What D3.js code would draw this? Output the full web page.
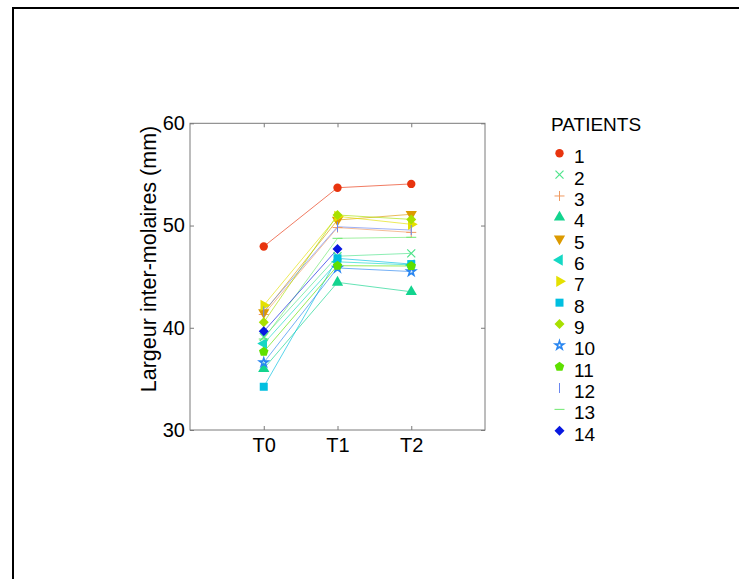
<!DOCTYPE html>
<html>
<head>
<meta charset="utf-8">
<script src="https://cdn.jsdelivr.net/npm/d3@7/dist/d3.min.js"></script>
<style>
  html, body { margin: 0; padding: 0; background: #fff; }
  svg { display: block; }
  text { font-family: Arial, "Liberation Sans", sans-serif; }
</style>
</head>
<body>
<svg id="chart" width="739" height="579"></svg>
<script>
const times = ["T0", "T1", "T2"];
const patients = ["1", "2", "3", "4", "5", "6", "7", "8", "9", "10", "11", "12", "13", "14"];
const t0Values = [47.95, 39.1, 41.3, 36.0, 41.5, 38.45, 42.2, 34.23, 40.53, 36.6, 37.65, 41.6, 38.9, 39.65];
const t1Values = [53.7, 47.0, 49.8, 44.44, 50.54, 46.45, 50.9, 46.79, 51.03, 45.85, 46.07, 49.88, 48.75, 47.7];
const t2Values = [54.07, 47.28, 49.33, 43.52, 51.1, 46.15, 50.12, 46.23, 50.6, 45.5, 46.04, 49.56, 48.85, null];
const yTicks = [30, 40, 50, 60];

const colors = ["#e8340e", "#4ee48a", "#f09a60", "#12d48e", "#dc9a00", "#14d8c4", "#e4e000",
                "#00bfe0", "#a8e000", "#2a86f0", "#5ee000", "#6a86f0", "#6ee86e", "#0818e0"];
const markers = ["circle", "times", "plus", "triUp", "triDown", "triLeft", "triRight",
                 "square", "diamond", "star", "pentagon", "vbar", "hbar", "diamond"];

const svg = d3.select("#chart");

// outer frame (only top & left edges visible)
svg.append("path")
  .attr("d", "M13,579 L13,8 L739,8")
  .attr("fill", "none").attr("stroke", "#000").attr("stroke-width", 2);

const x = d3.scaleLinear().domain([0, 4]).range([190, 485]);
const y = d3.scaleLinear().domain([30, 60]).range([430, 123.3]);

const axisColor = "#7a7a7a";

function styleAxis(g) {
  g.select(".domain").remove();
  g.selectAll(".tick line").attr("stroke", axisColor);
  g.selectAll(".tick text").attr("fill", "#000").attr("font-size", 20);
}

// box
svg.append("rect")
  .attr("x", x(0)).attr("y", y(60))
  .attr("width", x(4) - x(0)).attr("height", y(30) - y(60))
  .attr("fill", "none").attr("stroke", axisColor).attr("stroke-width", 1);

svg.append("g").attr("transform", `translate(${x(0)},0)`)
  .call(d3.axisLeft(y).tickValues(yTicks).tickSizeInner(-4).tickSizeOuter(0).tickPadding(5))
  .call(styleAxis);
svg.append("g").attr("transform", `translate(${x(4)},0)`)
  .call(d3.axisRight(y).tickValues(yTicks).tickSizeInner(-4).tickSizeOuter(0).tickFormat(""))
  .call(styleAxis);
svg.append("g").attr("transform", `translate(0,${y(30)})`)
  .call(d3.axisBottom(x).tickValues([1, 2, 3]).tickFormat((d) => times[d - 1])
    .tickSizeInner(-4).tickSizeOuter(0).tickPadding(8))
  .call(styleAxis);
svg.append("g").attr("transform", `translate(0,${y(60)})`)
  .call(d3.axisTop(x).tickValues([1, 2, 3]).tickSizeInner(-4).tickSizeOuter(0).tickFormat(""))
  .call(styleAxis);

svg.append("text")
  .attr("transform", `translate(156,259) rotate(-90)`)
  .attr("text-anchor", "middle")
  .attr("font-size", 21.5)
  .text("Largeur inter-molaires (mm)");

// marker shapes
function markerPath(type) {
  const tri = d3.symbol().type(d3.symbolTriangle).size(55)();
  switch (type) {
    case "circle": return { d: d3.symbol().type(d3.symbolCircle).size(55)(), fill: true };
    case "times": return { d: "M-4,-4L4,4M-4,4L4,-4", fill: false, sw: 1.2 };
    case "plus": return { d: "M-5,0L5,0M0,-5L0,5", fill: false };
    case "triUp": return { d: tri, fill: true, rot: 0 };
    case "triDown": return { d: tri, fill: true, rot: 180 };
    case "triLeft": return { d: tri, fill: true, rot: -90 };
    case "triRight": return { d: tri, fill: true, rot: 90 };
    case "square": return { d: "M-4,-4H4V4H-4Z", fill: true };
    case "diamond": return { d: "M0,-5L5,0L0,5L-5,0Z", fill: true };
    case "star": return { d: d3.symbol().type(d3.symbolStar).size(22)(), fill: false, sw: 1.6 };
    case "pentagon": {
      const pts = d3.range(5).map((i) => {
        const a = -Math.PI / 2 + i * 2 * Math.PI / 5;
        return [5 * Math.cos(a), 5 * Math.sin(a)];
      });
      return { d: "M" + pts.join("L") + "Z", fill: true };
    }
    case "vbar": return { d: "M0,-5L0,5", fill: false };
    case "hbar": return { d: "M-5,0L5,0", fill: false };
  }
}

const series = patients.map((p, i) => ({
  name: p,
  color: colors[i],
  marker: markers[i],
  values: [t0Values[i], t1Values[i], t2Values[i]]
    .map((v, k) => ({ t: k + 1, v: v }))
    .filter((d) => d.v !== null)
}));

const line = d3.line().x((d) => x(d.t)).y((d) => y(d.v));

svg.append("g").selectAll("path")
  .data(series)
  .join("path")
  .attr("d", (s) => line(s.values))
  .attr("fill", "none")
  .attr("stroke", (s) => s.color)
  .attr("stroke-width", 1)
  .attr("stroke-opacity", 0.65);

function drawMarker(g, s, cx, cy) {
  const m = markerPath(s.marker);
  g.append("path")
    .attr("d", m.d)
    .attr("transform", `translate(${cx},${cy})` + (m.rot ? ` rotate(${m.rot})` : ""))
    .attr("fill", m.fill ? s.color : "none")
    .attr("stroke", s.color)
    .attr("stroke-width", m.fill ? 0 : (m.sw || 1));
}

const pointsG = svg.append("g");
series.forEach((s) => {
  s.values.forEach((d) => drawMarker(pointsG, s, x(d.t), y(d.v)));
});

// legend
const legend = svg.append("g");
legend.append("text")
  .attr("x", 551).attr("y", 131)
  .attr("font-size", 19)
  .text("PATIENTS");

const legendY = d3.scaleLinear().domain([0, 13]).range([153.3, 430.7]);
series.forEach((s, i) => {
  drawMarker(legend, s, 559.5, legendY(i));
  legend.append("text")
    .attr("x", 574).attr("y", legendY(i) + 10)
    .attr("font-size", 19)
    .text(s.name);
});
</script>
</body>
</html>
